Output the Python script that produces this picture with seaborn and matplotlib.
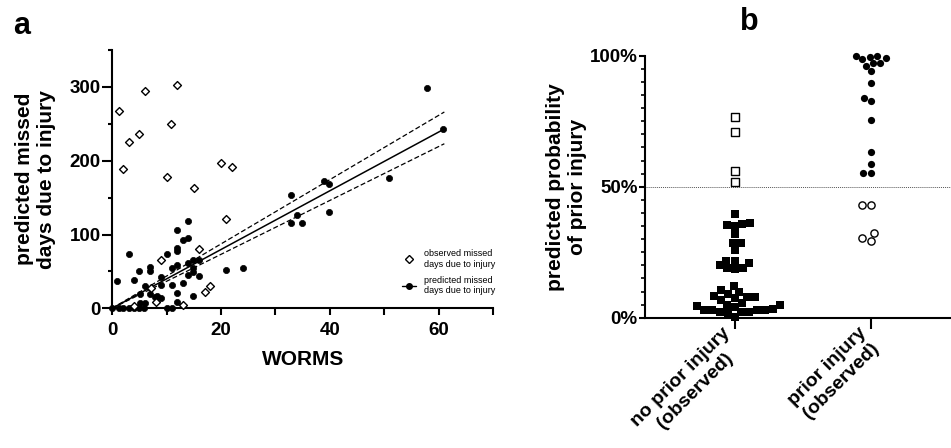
import matplotlib
matplotlib.use('Agg')
import matplotlib.pyplot as plt
from matplotlib.ticker import MultipleLocator, FuncFormatter
from matplotlib.lines import Line2D
import seaborn as sns
import pandas as pd

# ---- panel a: WORMS vs missed days ----
obs_worms = [1.2, 6, 12, 3.1, 5, 10.9, 2, 10, 20, 22, 15, 20.9, 16, 9, 7.1, 17.1, 18, 8, 4, 13]
obs_days = [268, 295, 303, 226, 236, 250, 189, 178, 197, 191, 163, 121, 80, 65, 27, 22, 30, 9, 3, 4]

pred_worms = [1, 3.1, 4.1, 5, 7, 7, 6, 5.1, 7, 7.9, 9, 9, 9, 10, 11, 11, 12, 12, 12, 12, 12, 12,
              13, 14, 14, 14, 14, 13, 14.9, 14.9, 14.9, 16, 16, 14.9, 10, 11, 20.9, 24,
              32.8, 32.8, 33.9, 34.9, 38.9, 39.9, 39.9, 50.9, 57.9, 60.8,
              0, 1.2, 2.1, 3.1, 4.1, 5, 5.9, 5.1, 6, 8.2]
pred_days = [37, 73, 39, 50, 56, 50, 30, 20, 20, 16, 43, 31, 14, 74, 55, 32, 106, 82, 77, 59, 21, 9,
             92, 118, 95, 61, 45, 34, 65, 54, 49, 65, 44, 17, 0, 0, 52, 54,
             153, 116, 126, 115, 173, 169, 131, 176, 298, 243,
             0, 0, 0, 0, 0, 0, 0, 7, 7, 17]

fit_worms = [0, 61]
fit_days = [0, 243]
fit_upper = [0, 266]
fit_lower = [0, 223]

# ---- panel b: predicted probability of prior injury ----
groups = ['no prior injury\n(observed)', 'prior injury\n(observed)']
no_prior_below = [39.6, 36.3, 35.5, 35.9, 35.0, 31.9, 28.6, 28.6, 25.8,
                  21.8, 21.6, 20.8, 20.1, 19.1, 18.9, 18.6,
                  12.1, 10.6, 9.9, 9.0, 8.3, 8.0, 7.8, 7.4, 6.8, 5.5, 4.8, 4.8, 4.5, 4.2,
                  3.4, 2.9, 2.9, 2.9, 2.9, 2.3, 2.3, 2.3, 1.9, 0.4]
no_prior_above = [76.5, 70.9, 56.1, 51.9]
prior_above = [98.7, 99.9, 97.1, 99.6, 99.0, 96.2, 97.3, 99.9, 94.2, 89.5,
               82.8, 83.7, 75.5, 63.4, 58.5, 55.1, 55.1]
prior_below = [43.0, 43.0, 30.3, 32.4, 29.3]

sns.set_style('ticks')
plt.rcParams['font.family'] = ['Liberation Sans', 'DejaVu Sans']
plt.rcParams['font.weight'] = 'bold'
plt.rcParams['axes.labelweight'] = 'bold'
for k in ['text.color', 'axes.labelcolor', 'xtick.color', 'ytick.color', 'axes.edgecolor']:
    plt.rcParams[k] = 'black'

fig = plt.figure(figsize=(9.51, 4.48), dpi=100)
ax = fig.add_axes([0.1178, 0.3118, 0.401, 0.5766])
axb = fig.add_axes([0.678, 0.2908, 0.3218, 0.5848])

# panel a
sns.lineplot(x=fit_worms, y=fit_days, color='black', lw=1.1, ax=ax)
sns.lineplot(x=fit_worms, y=fit_upper, color='black', lw=0.9, ls=(0, (4, 2)), ax=ax)
sns.lineplot(x=fit_worms, y=fit_lower, color='black', lw=0.9, ls=(0, (4, 2)), ax=ax)
sns.scatterplot(x=pred_worms, y=pred_days, color='black', marker='o', s=20,
                edgecolor='black', linewidth=0.5, ax=ax, clip_on=False, zorder=3)
sns.scatterplot(x=obs_worms, y=obs_days, color='white', marker='D', s=16,
                edgecolor='black', linewidth=1, ax=ax, clip_on=False, zorder=4)

ax.set_xlim(0, 70)
ax.set_ylim(0, 350)
ax.xaxis.set_major_locator(MultipleLocator(20))
ax.xaxis.set_minor_locator(MultipleLocator(10))
ax.yaxis.set_major_locator(MultipleLocator(100))
ax.yaxis.set_minor_locator(MultipleLocator(50))
ax.tick_params(axis='x', which='both', length=5, width=1.5)
ax.tick_params(axis='x', which='major', labelsize=13.5, pad=5)
ax.tick_params(axis='y', which='major', length=7, width=1.5, labelsize=13.5, pad=1)
ax.tick_params(axis='y', which='minor', length=3, width=1.5)
ax.set_xlabel('WORMS', fontsize=15, labelpad=8)
ax.set_ylabel('predicted missed\ndays due to injury', fontsize=15, labelpad=10)
for s in ['left', 'bottom']:
    ax.spines[s].set_linewidth(1.5)
sns.despine(ax=ax)

handles = [Line2D([], [], marker='D', mfc='white', mec='black', ls='none', ms=4, mew=1),
           Line2D([], [], marker='o', color='black', lw=1, ms=4)]
ax.legend(handles, ['observed missed\ndays due to injury', 'predicted missed\ndays due to injury'],
          loc='lower right', bbox_to_anchor=(1.025, 0.02), frameon=False,
          prop={'size': 6.5, 'weight': 'normal'}, handlelength=1.6, labelspacing=0.75,
          handletextpad=0.8)

# panel b
sq = dict(marker='s', size=5.5, order=groups, ax=axb)
sns.swarmplot(x=[groups[0]] * len(no_prior_below), y=no_prior_below, color='black', **sq)
sns.swarmplot(x=[groups[0]] * len(no_prior_above), y=no_prior_above, color='white',
              edgecolor='black', linewidth=1, **sq)
ci = dict(marker='o', size=5.2, order=groups, ax=axb)
sns.swarmplot(x=[groups[1]] * len(prior_above), y=prior_above, color='black', **ci)
sns.swarmplot(x=[groups[1]] * len(prior_below), y=prior_below, color='white',
              edgecolor='black', linewidth=1, **ci)
for c in axb.collections:
    c.set_clip_on(False)

axb.axhline(50, color='#555555', lw=0.7, ls=(0, (1, 1)), zorder=0)
axb.set_xlim(-0.662, 1.588)
axb.set_ylim(0, 100)
axb.yaxis.set_major_locator(MultipleLocator(50))
axb.yaxis.set_minor_locator(MultipleLocator(5))
axb.yaxis.set_major_formatter(FuncFormatter(lambda v, p: f'{int(v)}%'))
axb.tick_params(axis='y', which='major', length=4, width=1.5, labelsize=13.5, pad=1)
axb.tick_params(axis='y', which='minor', length=3, width=1.2)
axb.tick_params(axis='x', which='major', length=8, width=1.5, labelsize=14, pad=6)
axb.set_xticks([0, 1])
axb.set_xticklabels(groups, rotation=45, ha='right', va='center', rotation_mode='anchor',
                    multialignment='center')
axb.set_xlabel('')
axb.set_ylabel('predicted probability\nof prior injury', fontsize=15, labelpad=2)
for s in ['left', 'bottom']:
    axb.spines[s].set_linewidth(1.5)
sns.despine(ax=axb)

fig.text(0.014, 0.975, 'a', fontsize=22, fontweight='bold', va='top')
fig.text(0.778, 0.985, 'b', fontsize=22, fontweight='bold', va='top')

fig.savefig('out.png', dpi=100)
